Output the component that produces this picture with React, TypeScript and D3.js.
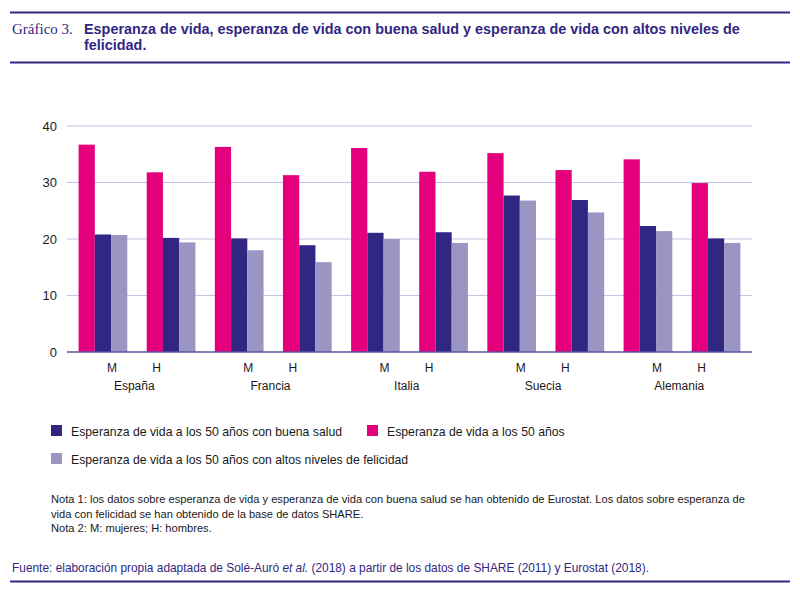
import React from 'react';
import * as d3 from 'd3';

const countries = ['España', 'Francia', 'Italia', 'Suecia', 'Alemania'];
const sexes = ['M', 'H'];
const lifeExp = [36.7, 31.8, 36.3, 31.3, 36.1, 31.9, 35.2, 32.2, 34.1, 29.9];
const goodHealth = [20.8, 20.2, 20.1, 18.9, 21.1, 21.2, 27.7, 26.9, 22.3, 20.1];
const happiness = [20.7, 19.4, 18.0, 15.9, 20.0, 19.3, 26.8, 24.7, 21.4, 19.3];
const yTicks = [0, 10, 20, 30, 40];

const seriesKeys = ['life', 'health', 'happy'];
const seriesLabels: Record<string, string> = {
  health: 'Esperanza de vida a los 50 años con buena salud',
  life: 'Esperanza de vida a los 50 años',
  happy: 'Esperanza de vida a los 50 años con altos niveles de felicidad',
};
const colors: Record<string, string> = {
  life: '#e4007c',
  health: '#312783',
  happy: '#9a95c3',
};

const DARK = '#312783';
const SANS = '"Liberation Sans", Arial, sans-serif';

export default function App() {
  const groups = countries.flatMap((c) => sexes.map((s) => `${c}|${s}`));
  const rows = groups.map((g, i) => ({
    key: g,
    country: g.split('|')[0],
    sex: g.split('|')[1],
    life: lifeExp[i],
    health: goodHealth[i],
    happy: happiness[i],
  }));

  const x0 = d3.scaleBand<string>().domain(groups).range([67, 752]).paddingInner(0.285).paddingOuter(0.17);
  const x1 = d3.scaleBand<string>().domain(seriesKeys).range([0, x0.bandwidth()]).padding(0);
  const y = d3.scaleLinear().domain([0, 40]).range([352, 126]);

  const labelX = (r: { key: string; sex: string }) =>
    (x0(r.key) as number) + x0.bandwidth() / 2 + (r.sex === 'M' ? 9 : -14.5);

  return (
    <svg width={800} height={591} style={{ position: 'absolute', left: 0, top: 0, background: '#fff' }}>
      {/* header */}
      <line x1={10} x2={790} y1={12.5} y2={12.5} stroke={DARK} strokeWidth={2} />
      <text x={12} y={34} fontFamily='"Liberation Serif", "DejaVu Serif", serif' fontSize={15} fill={DARK}>
        Gráfico 3.
      </text>
      <text x={84} y={34} fontFamily={SANS} fontWeight="bold" fontSize={14.4} fill={DARK}>
        Esperanza de vida, esperanza de vida con buena salud y esperanza de vida con altos niveles de
      </text>
      <text x={84} y={50} fontFamily={SANS} fontWeight="bold" fontSize={14.4} fill={DARK}>
        felicidad.
      </text>
      <line x1={10} x2={790} y1={62.5} y2={62.5} stroke={DARK} strokeWidth={2} />

      {/* grid */}
      {yTicks.filter((t) => t > 0).map((t) => (
        <line key={t} x1={67} x2={752} y1={y(t)} y2={y(t)} stroke="#c6c1e0" strokeWidth={1} />
      ))}
      {yTicks.map((t) => (
        <text key={t} x={57} y={y(t) + 4.5} textAnchor="end" fontFamily={SANS} fontSize={13} fill="#1a1a1a">
          {t}
        </text>
      ))}

      {/* bars */}
      {rows.map((r) => (
        <g key={r.key} transform={`translate(${x0(r.key)},0)`}>
          {seriesKeys.map((k) => (
            <rect
              key={k}
              x={x1(k)}
              width={x1.bandwidth()}
              y={y((r as any)[k])}
              height={y(0) - y((r as any)[k])}
              fill={colors[k]}
            />
          ))}
        </g>
      ))}
      <line x1={67} x2={752} y1={y(0)} y2={y(0)} stroke="#5a52a0" strokeWidth={1.5} />

      {/* x labels */}
      {rows.map((r) => (
        <text key={r.key} x={labelX(r)} y={372} textAnchor="middle" fontFamily={SANS} fontSize={12} fill="#1a1a1a">
          {r.sex}
        </text>
      ))}
      {countries.map((c) => {
        const m = rows.find((r) => r.country === c && r.sex === 'M')!;
        const h = rows.find((r) => r.country === c && r.sex === 'H')!;
        return (
          <text key={c} x={(labelX(m) + labelX(h)) / 2} y={390} textAnchor="middle" fontFamily={SANS} fontSize={12} fill="#1a1a1a">
            {c}
          </text>
        );
      })}

      {/* legend */}
      {[
        { k: 'health', x: 51, y: 425 },
        { k: 'life', x: 367, y: 425 },
        { k: 'happy', x: 51, y: 453 },
      ].map((l) => (
        <g key={l.k}>
          <rect x={l.x} y={l.y} width={11} height={11} fill={colors[l.k]} />
          <text x={l.x + 20} y={l.y + 10.5} fontFamily={SANS} fontSize={12.25} fill="#1a1a1a">
            {seriesLabels[l.k]}
          </text>
        </g>
      ))}

      {/* notes */}
      <g fontFamily={SANS} fontSize={11.13} fill="#1a1a1a">
        <text x={51} y={503}>
          Nota 1: los datos sobre esperanza de vida y esperanza de vida con buena salud se han obtenido de Eurostat. Los datos sobre esperanza de
        </text>
        <text x={51} y={518}>vida con felicidad se han obtenido de la base de datos SHARE.</text>
        <text x={51} y={532}>Nota 2: M: mujeres; H: hombres.</text>
      </g>
      <text x={12} y={572} fontFamily={SANS} fontSize={11.9} fill={DARK}>
        Fuente: elaboración propia adaptada de Solé-Auró <tspan fontStyle="italic">et al.</tspan> (2018) a partir de los datos de SHARE (2011) y Eurostat (2018).
      </text>
      <line x1={10} x2={790} y1={581.5} y2={581.5} stroke={DARK} strokeWidth={2} />
    </svg>
  );
}
